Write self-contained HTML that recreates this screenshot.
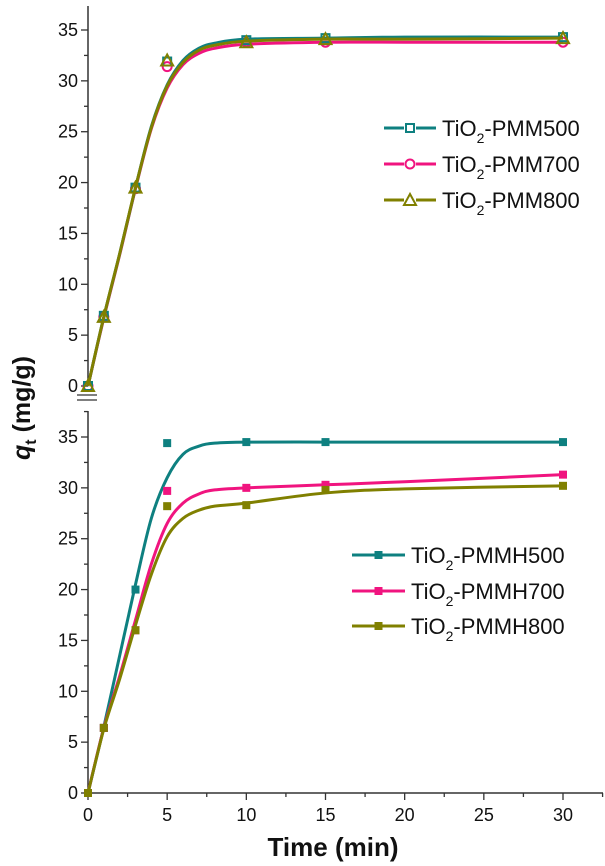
<!DOCTYPE html>
<html><head><meta charset="utf-8"><style>
html,body{margin:0;padding:0;background:#fff;}
svg{display:block;font-family:"Liberation Sans",Arial,sans-serif;}
</style></head><body>
<svg id="chart" width="605" height="866" viewBox="0 0 605 866" xmlns="http://www.w3.org/2000/svg"></svg>
<script>
// ---- data ----
const timesTop = [0,1,3,5,10,15,30];
const pmm500 = [0,6.9,19.5,31.9,34.0,34.2,34.3];
const pmm700 = [0,6.8,19.4,31.4,33.8,33.8,33.8];
const pmm800 = [0,6.8,19.5,32.0,33.8,34.1,34.2];
const timesBot = [0,1,3,5,10,15,30];
const pmmh500 = [0,6.4,20.0,34.4,34.5,34.5,34.5];
const pmmh700 = [0,6.4,16.0,29.7,30.0,30.3,31.3];
const pmmh800 = [0,6.4,16.0,28.2,28.3,29.8,30.2];
// fitted curves
const fitT = [0,1,2,3,4,5,6,7,8,10,15,20,30];
const fit500 = [0,6.8,13,19.5,25.5,29.6,32.0,33.2,33.7,34.1,34.2,34.3,34.3];
const fit700 = [0,6.7,12.9,19.4,25.3,29.3,31.6,32.7,33.2,33.6,33.8,33.8,33.8];
const fit800 = [0,6.8,13,19.5,25.4,29.5,31.8,33.0,33.5,33.9,34.1,34.1,34.2];
const fitH500 = [0,6.5,13.5,20.5,27,31,33.3,34.1,34.4,34.5,34.5,34.5,34.5];
const fitH700 = [0,6.4,11.5,17,22.5,26.5,28.5,29.4,29.8,30.0,30.3,30.6,31.3];
const fitH800 = [0,6.3,11.2,16.5,21.5,25.2,27.0,27.8,28.2,28.5,29.5,29.9,30.2];
const yTicks = [0,5,10,15,20,25,30,35];
const xTicks = [0,5,10,15,20,25,30];

const TEAL="#0e8080", PINK="#f0147f", OLIVE="#808000";
const svg=document.getElementById('chart');
const NS="http://www.w3.org/2000/svg";
function mk(tag,attrs,parent){const e=document.createElementNS(NS,tag);for(const k in attrs)e.setAttribute(k,attrs[k]);(parent||svg).appendChild(e);return e;}
const X0=88, XS=(563-88)/30;
const xs=t=>X0+t*XS;
const yTop=v=>386-v*(356/35);
const yBot=v=>793-v*(356/35);

function smooth(pts){
  let d="M"+pts[0][0]+","+pts[0][1];
  for(let i=0;i<pts.length-1;i++){
    const p0=pts[Math.max(0,i-1)],p1=pts[i],p2=pts[i+1],p3=pts[Math.min(pts.length-1,i+2)];
    const c1x=p1[0]+(p2[0]-p0[0])/6,c1y=p1[1]+(p2[1]-p0[1])/6;
    const c2x=p2[0]-(p3[0]-p1[0])/6,c2y=p2[1]-(p3[1]-p1[1])/6;
    d+=" C"+c1x+","+c1y+" "+c2x+","+c2y+" "+p2[0]+","+p2[1];
  }
  return d;
}

// axes
const axTop=mk('g',{});


mk('line',{x1:X0,y1:6,x2:X0,y2:386,stroke:'#333','stroke-width':1.5},axTop);
const axBot=mk('g',{});


mk('line',{x1:X0,y1:411,x2:X0,y2:793,stroke:'#333','stroke-width':1.5},axBot);
[[yTop,axTop,6],[yBot,axBot,411]].forEach(([yf,g,top])=>{
  for(let v=0;v<=37.5;v+=2.5){
    const y=yf(v); if(y<top)continue;
    const major=(v%5===0);
    mk('line',{x1:X0-(major?7:4),y1:y,x2:X0,y2:y,stroke:'#333','stroke-width':1.3},g);
  }
  yTicks.forEach(v=>{
    const t=mk('text',{x:X0-10,y:yf(v)+6,'text-anchor':'end','font-size':18,fill:'#111'},g);
    t.textContent=v;
  });
});
// break marks
mk('line',{x1:77,y1:395,x2:97,y2:395,stroke:'#333','stroke-width':1.3});
mk('line',{x1:77,y1:400,x2:97,y2:400,stroke:'#333','stroke-width':1.3});
// x axis
const axX=mk('g',{});


mk('line',{x1:X0,y1:793,x2:603,y2:793,stroke:'#333','stroke-width':1.5},axX);
for(let t=0;t<=32.5;t+=2.5){
  const major=(t%5===0);
  mk('line',{x1:xs(t),y1:793,x2:xs(t),y2:793+(major?7:4),stroke:'#333','stroke-width':1.3},axX);
}
xTicks.forEach(v=>{
  const t=mk('text',{x:xs(v),y:821,'text-anchor':'middle','font-size':18,fill:'#111'},axX);
  t.textContent=v;
});
const xt=mk('text',{x:333,y:856,'text-anchor':'middle','font-size':26,'font-weight':'bold',fill:'#111'});


xt.textContent='Time (min)';
const yt=mk('text',{transform:'translate(30,408) rotate(-90)','text-anchor':'middle','font-size':25,'font-weight':'bold',fill:'#111'});


const q=mk('tspan',{'font-style':'italic'},yt);q.textContent='q';
const st=mk('tspan',{'font-size':16,dy:6},yt);st.textContent='t';
const rest=mk('tspan',{dy:-6},yt);rest.textContent=' (mg/g)';

function marker(g,kind,x,y,c){
  if(kind==='sq') mk('rect',{x:x-4,y:y-4,width:8,height:8,fill:'none',stroke:c,'stroke-width':2},g);
  else if(kind==='ci') mk('circle',{cx:x,cy:y,r:4.5,fill:'none',stroke:c,'stroke-width':2},g);
  else if(kind==='tr') mk('polygon',{points:(x)+','+(y-6)+' '+(x-6)+','+(y+5)+' '+(x+6)+','+(y+5),fill:'none',stroke:c,'stroke-width':2},g);
  else mk('rect',{x:x-4,y:y-4,width:8,height:8,fill:c},g);
}
function series(name,t,vals,fit,yf,c,kind){
  const g=mk('g',{});
  
  
  mk('path',{d:smooth(fitT.map((tt,i)=>[xs(tt),yf(fit[i])])),fill:'none',stroke:c,'stroke-width':3},g);
  t.forEach((tt,i)=>marker(g,kind,xs(tt),yf(vals[i]),c));
}
series('series-pmm700',timesTop,pmm700,fit700,yTop,PINK,'ci');
series('series-pmm500',timesTop,pmm500,fit500,yTop,TEAL,'sq');
series('series-pmm800',timesTop,pmm800,fit800,yTop,OLIVE,'tr');
series('series-pmmh500',timesBot,pmmh500,fitH500,yBot,TEAL,'f');
series('series-pmmh700',timesBot,pmmh700,fitH700,yBot,PINK,'f');
series('series-pmmh800',timesBot,pmmh800,fitH800,yBot,OLIVE,'f');

function legend(x1,x2,tx,y,c,kind,label,name){
  const g=mk('g',{});
  
  
  mk('line',{x1:x1,y1:y,x2:x2,y2:y,stroke:c,'stroke-width':3},g);
  if(kind==='f') mk('rect',{x:(x1+x2)/2-4,y:y-4,width:8,height:8,fill:c},g);
  else { mk('rect',{x:(x1+x2)/2-6,y:y-6,width:12,height:12,fill:'#fff'},g); marker(g,kind,(x1+x2)/2,y,c); }
  const t=mk('text',{x:tx,y:y+8,'font-size':22,fill:'#111'},g);
  const a=mk('tspan',{},t);a.textContent='TiO';
  const b=mk('tspan',{'font-size':14,dy:7},t);b.textContent='2';
  const d=mk('tspan',{dy:-7},t);d.textContent='-'+label;
}
legend(384,436,442,128,TEAL,'sq','PMM500','legend-pmm500');
legend(384,436,442,164,PINK,'ci','PMM700','legend-pmm700');
legend(384,436,442,200,OLIVE,'tr','PMM800','legend-pmm800');
legend(352,405,411,555,TEAL,'f','PMMH500','legend-pmmh500');
legend(352,405,411,591,PINK,'f','PMMH700','legend-pmmh700');
legend(352,405,411,626,OLIVE,'f','PMMH800','legend-pmmh800');
</script>
</body></html>
